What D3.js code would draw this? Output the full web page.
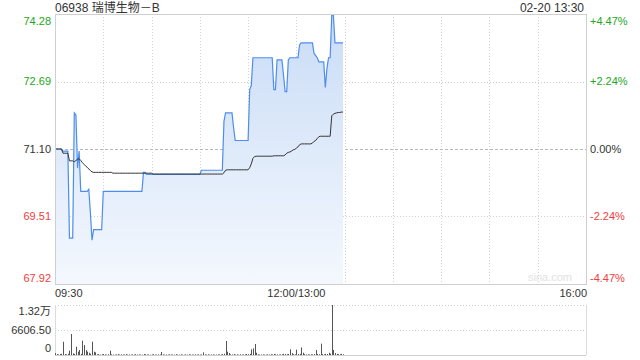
<!DOCTYPE html>
<html>
<head>
  <meta charset="UTF-8">
  <script src="https://d3js.org/d3.v7.min.js"></script>
</head>
<body style="margin:0;background:#fff">
  <svg id="chart" width="640" height="360"></svg>
<style>
  body { font-family: "Liberation Sans", Arial, "Noto Sans CJK SC", sans-serif; }
  .lbl { font-size: 11px; }
</style>
<script>
  // ---- data ----
  const stockTitle = "06938 瑞博生物－B";
  const stamp = "02-20 13:30";
  const preClose = 71.10;
  const priceTicks = [67.92, 69.51, 71.10, 72.69, 74.28];
  const pctTicks = ["-4.47%", "-2.24%", "0.00%", "+2.24%", "+4.47%"];
  const timeLabels = ["09:30", "12:00/13:00", "16:00"];
  const volTicks = ["0", "6606.50", "1.32万"];
  const volMax = 13213;

  // one value per minute from 09:30
  const prices = [
    71.10, 71.10, 71.10, 71.10, 71.10, 71.05, 71.05, 71.05, 71.05, 69.00,
    69.00, 69.00, 71.95, 71.90, 70.65, 71.05, 70.10, 70.10, 70.10, 70.10,
    70.10, 70.15, 69.60, 68.95, 69.20, 69.20, 69.20, 69.20, 69.20, 69.20,
    70.10, 70.10, 70.10, 70.10, 70.10, 70.10, 70.10, 70.10, 70.10, 70.10,
    70.10, 70.10, 70.10, 70.10, 70.10, 70.10, 70.10, 70.10, 70.10, 70.10,
    70.10, 70.10, 70.10, 70.10, 70.10, 70.55, 70.55, 70.50, 70.50, 70.50,
    70.50, 70.50, 70.50, 70.50, 70.50, 70.50, 70.50, 70.50, 70.50, 70.50,
    70.50, 70.50, 70.50, 70.50, 70.50, 70.50, 70.50, 70.50, 70.50, 70.50,
    70.50, 70.50, 70.50, 70.50, 70.50, 70.50, 70.50, 70.50, 70.50, 70.50,
    70.50, 70.60, 70.60, 70.60, 70.60, 70.60, 70.60, 70.60, 70.60, 70.60,
    70.60, 70.60, 70.60, 70.60, 70.60, 71.75, 71.95, 71.95, 71.95, 71.95,
    71.95, 71.60, 71.30, 71.30, 71.30, 71.30, 71.30, 71.30, 71.30, 71.30,
    71.30, 72.50, 72.60, 73.25, 73.25, 73.25, 73.25, 73.25, 73.25, 73.25,
    73.25, 73.25, 73.25, 73.25, 73.25, 73.25, 72.50, 72.50, 73.20, 73.20,
    73.20, 73.20, 72.85, 72.45, 72.45, 73.20, 73.25, 73.25, 73.25, 73.25,
    73.25, 73.25, 73.55, 73.60, 73.60, 73.60, 73.60, 73.60, 73.60, 73.60,
    73.60, 73.35, 73.30, 73.25, 73.15, 73.15, 73.15, 73.15, 72.55, 73.00,
    73.25, 73.25, 74.25, 74.25, 73.60, 73.60, 73.60, 73.60, 73.60, 73.60
  ];

  const avgPrices = [
    71.10, 71.10, 71.10, 71.10, 71.10, 71.00, 71.00, 71.00, 71.00, 70.82,
    70.82, 70.82, 70.80, 70.83, 70.86, 70.87, 70.83, 70.78, 70.74, 70.70,
    70.67, 70.63, 70.59, 70.56, 70.55, 70.55, 70.55, 70.55, 70.55, 70.55,
    70.55, 70.55, 70.55, 70.55, 70.55, 70.55, 70.53, 70.53, 70.53, 70.53,
    70.53, 70.53, 70.53, 70.53, 70.53, 70.53, 70.53, 70.53, 70.53, 70.53,
    70.53, 70.53, 70.53, 70.53, 70.53, 70.53, 70.53, 70.53, 70.53, 70.53,
    70.53, 70.51, 70.51, 70.51, 70.51, 70.51, 70.51, 70.51, 70.51, 70.51,
    70.51, 70.51, 70.51, 70.51, 70.51, 70.51, 70.51, 70.51, 70.51, 70.51,
    70.51, 70.51, 70.51, 70.51, 70.51, 70.51, 70.51, 70.51, 70.51, 70.51,
    70.51, 70.51, 70.51, 70.51, 70.51, 70.51, 70.51, 70.51, 70.51, 70.51,
    70.51, 70.51, 70.51, 70.51, 70.51, 70.54, 70.60, 70.61, 70.61, 70.61,
    70.61, 70.61, 70.61, 70.61, 70.61, 70.61, 70.61, 70.61, 70.61, 70.61,
    70.61, 70.66, 70.75, 70.88, 70.92, 70.93, 70.93, 70.93, 70.93, 70.93,
    70.93, 70.93, 70.93, 70.93, 70.93, 70.93, 70.94, 70.94, 70.94, 70.94,
    70.94, 70.94, 70.94, 70.96, 71.00, 71.02, 71.03, 71.05, 71.08, 71.09,
    71.12, 71.15, 71.20, 71.22, 71.22, 71.22, 71.22, 71.22, 71.22, 71.22,
    71.24, 71.28, 71.30, 71.35, 71.39, 71.40, 71.40, 71.40, 71.40, 71.40,
    71.40, 71.40, 71.88, 71.92, 71.94, 71.95, 71.96, 71.96, 71.97, 71.97
  ];

  const volumes = [
    500, 220, 150, 260, 310, 3500, 240, 180, 330, 1150,
    5550, 420, 280, 2200, 880, 1320, 300, 3790, 2640, 1320,
    880, 600, 310, 3520, 880, 700, 160, 210, 120, 190,
    240, 150, 110, 200, 1150, 180, 130, 90, 160, 210,
    120, 180, 100, 150, 230, 110, 140, 90, 170, 120,
    200, 130, 160, 110, 90, 260, 180, 120, 150, 100,
    140, 210, 120, 90, 170, 130, 800, 160, 110, 140,
    100, 180, 120, 150, 90, 200, 130, 110, 160, 120,
    90, 150, 110, 170, 130, 100, 140, 190, 120, 160,
    110, 130, 700, 150, 120, 180, 100, 140, 160, 110,
    130, 170, 120, 150, 220, 330, 3700, 880, 530, 180,
    150, 240, 120, 160, 110, 190, 140, 130, 170, 260,
    210, 300, 1500, 1760, 2900, 600, 180, 140, 120, 160,
    130, 110, 170, 150, 200, 140, 260, 190, 160, 120,
    150, 180, 300, 240, 200, 260, 1500, 500, 220, 180,
    1400, 260, 300, 2000, 600, 220, 150, 180, 140, 200,
    160, 240, 1320, 280, 200, 3000, 240, 180, 300, 260,
    600, 350, 13212, 1320, 500, 280, 220, 180, 300, 200
  ];

  // ---- layout ----
  const pLeft = 55, pRight = 586;
  const pTop = 14, pBottom = 284;
  const vTop = 305, vBottom = 355;
  const green = "#22a622", red = "#f03c3c", dark = "#333";

  const svg = d3.select("#chart");

  const x = d3.scaleLinear().domain([0, 330]).range([pLeft, pRight]);
  const y = d3.scaleLinear().domain([67.92, 74.28]).range([pBottom, pTop]);
  const yv = d3.scaleLinear().domain([0, volMax]).range([vBottom, vTop]);

  const defs = svg.append("defs");
  const grad = defs.append("linearGradient")
    .attr("id", "areaGrad")
    .attr("gradientUnits", "userSpaceOnUse")
    .attr("x1", 0).attr("x2", 0)
    .attr("y1", pTop).attr("y2", pBottom);
  grad.append("stop").attr("offset", "0%").attr("stop-color", "#c9dcf6");
  grad.append("stop").attr("offset", "100%").attr("stop-color", "#f4f8fe");

  // grid
  const grid = svg.append("g");
  d3.range(1, 11).forEach(k => {
    const gx = Math.round(x(k * 30)) + 0.5;
    grid.append("line")
      .attr("x1", gx).attr("x2", gx)
      .attr("y1", pTop).attr("y2", pBottom)
      .attr("stroke", "#d0d0d0").attr("stroke-dasharray", "1,2");
  });
  priceTicks.slice(1, 4).forEach(p => {
    grid.append("line")
      .attr("x1", pLeft).attr("x2", pRight)
      .attr("y1", Math.round(y(p)) + 0.5).attr("y2", Math.round(y(p)) + 0.5)
      .attr("stroke", p === preClose ? "#b8b8b8" : "#d0d0d0")
      .attr("stroke-dasharray", p === preClose ? "3,2" : "1,2");
  });

  // area + lines
  const pts = prices.map((p, i) => [i, p]);
  svg.append("path")
    .datum(pts)
    .attr("fill", "url(#areaGrad)")
    .attr("d", d3.area().x(d => x(d[0])).y0(pBottom).y1(d => y(d[1])));

  svg.append("path")
    .datum(pts)
    .attr("fill", "none")
    .attr("stroke", "#4d8def")
    .attr("stroke-width", 1.2)
    .attr("d", d3.line().x(d => x(d[0])).y(d => y(d[1])));

  svg.append("path")
    .datum(avgPrices.map((p, i) => [i, p]))
    .attr("fill", "none")
    .attr("stroke", "#333")
    .attr("stroke-width", 1)
    .attr("d", d3.line().x(d => x(d[0])).y(d => y(d[1])));

  // frame
  svg.append("rect")
    .attr("x", pLeft + 0.5).attr("y", pTop + 0.5)
    .attr("width", pRight - pLeft).attr("height", pBottom - pTop)
    .attr("fill", "none").attr("stroke", "#cfcfcf");

  // watermark
  svg.append("text")
    .attr("x", 572).attr("y", 281)
    .attr("text-anchor", "end")
    .attr("font-size", 11)
    .attr("fill", "#e2e2e2")
    .text("sina.com");

  // price labels
  const labY = [pBottom - 6, y(69.51), y(71.10), y(72.69), pTop + 7];
  const labColor = [red, red, dark, green, green];
  priceTicks.forEach((p, i) => {
    svg.append("text").attr("class", "lbl")
      .attr("x", 51).attr("y", labY[i]).attr("dy", "0.35em")
      .attr("text-anchor", "end").attr("fill", labColor[i])
      .text(p.toFixed(2));
    svg.append("text").attr("class", "lbl")
      .attr("x", 590).attr("y", labY[i]).attr("dy", "0.35em")
      .attr("fill", labColor[i])
      .text(pctTicks[i]);
  });

  // time labels
  svg.append("text").attr("class", "lbl").attr("x", pLeft).attr("y", 297).attr("fill", dark).text(timeLabels[0]);
  svg.append("text").attr("class", "lbl").attr("x", x(150)).attr("y", 297).attr("text-anchor", "middle").attr("fill", dark).text(timeLabels[1]);
  svg.append("text").attr("class", "lbl").attr("x", pRight + 1).attr("y", 297).attr("text-anchor", "end").attr("fill", dark).text(timeLabels[2]);

  // title
  svg.append("text").attr("x", pLeft).attr("y", 12).attr("font-size", 12).attr("fill", dark).text(stockTitle);
  svg.append("text").attr("x", 584).attr("y", 12).attr("font-size", 12).attr("text-anchor", "end").attr("fill", dark).text(stamp);

  // volume panel
  svg.append("line").attr("x1", pLeft).attr("x2", pRight).attr("y1", vTop + 0.5).attr("y2", vTop + 0.5)
    .attr("stroke", "#cfcfcf").attr("stroke-dasharray", "1,2");
  svg.append("line").attr("x1", pLeft).attr("x2", pRight)
    .attr("y1", Math.round(yv(volMax / 2)) + 0.5).attr("y2", Math.round(yv(volMax / 2)) + 0.5)
    .attr("stroke", "#cfcfcf").attr("stroke-dasharray", "1,2");
  svg.append("line").attr("x1", pLeft).attr("x2", pRight).attr("y1", vBottom + 0.5).attr("y2", vBottom + 0.5).attr("stroke", "#cfcfcf");
  svg.append("line").attr("x1", pLeft + 0.5).attr("x2", pLeft + 0.5).attr("y1", vTop).attr("y2", vBottom).attr("stroke", "#dcdcdc");
  svg.append("line").attr("x1", pRight + 0.5).attr("x2", pRight + 0.5).attr("y1", vTop).attr("y2", vBottom).attr("stroke", "#dcdcdc");

  svg.append("g").selectAll("line")
    .data(volumes)
    .join("line")
    .attr("x1", (d, i) => Math.round(x(i)) + 0.5)
    .attr("x2", (d, i) => Math.round(x(i)) + 0.5)
    .attr("y1", vBottom)
    .attr("y2", d => yv(d))
    .attr("stroke", "#555")
    .attr("stroke-width", 1);

  const vLabY = [vBottom - 7, yv(volMax / 2), vTop + 6];
  volTicks.forEach((t, i) => {
    svg.append("text").attr("class", "lbl")
      .attr("x", 51).attr("y", vLabY[i]).attr("dy", "0.35em")
      .attr("text-anchor", "end").attr("fill", dark)
      .text(t);
  });
</script>
</body>
</html>
